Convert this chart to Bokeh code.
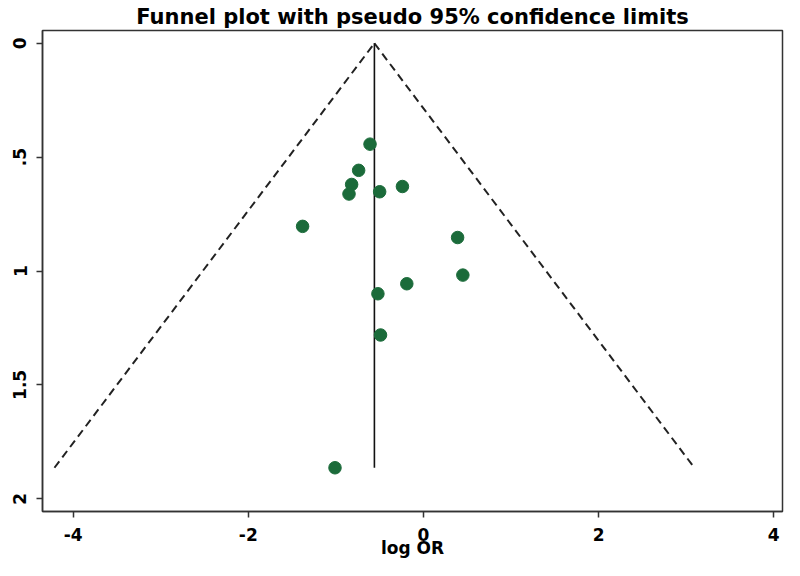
from bokeh.plotting import figure
from bokeh.models import Range1d, FixedTicker
from bokeh.embed import file_html
from bokeh.resources import INLINE

# Study estimates (log OR) and their standard errors
log_or = [-0.61, -0.74, -0.82, -0.85, -0.50, -0.24, -1.38, 0.39, 0.45, -0.19, -0.52, -0.49, -1.01]
se = [0.443, 0.558, 0.620, 0.662, 0.652, 0.629, 0.804, 0.853, 1.018, 1.056, 1.100, 1.281, 1.864]

pooled = -0.56      # fixed-effect pooled log OR
se_max = 1.864      # largest standard error
z95 = 1.96

x_ticks = [-4, -2, 0, 2, 4]
x_tick_labels = ["-4", "-2", "0", "2", "4"]
y_ticks = [0, 0.5, 1, 1.5, 2]
y_tick_labels = ["0", ".5", "1", "1.5", "2"]

FONT = "DejaVu Sans"
GREEN = "#1b6b3a"

p = figure(width=784, height=560, output_backend="svg", toolbar_location=None,
           x_range=Range1d(-4.35, 4.10), y_range=Range1d(2.056, -0.056),
           min_border_left=42, min_border_right=2, min_border_top=30, min_border_bottom=46)

p.title.text = "Funnel plot with pseudo 95% confidence limits"
p.title.text_font = FONT
p.title.text_font_style = "bold"
p.title.text_font_size = "21px"
p.title.text_color = "black"
p.title.align = "center"
p.title.offset = 0
p.title.standoff = 4

p.grid.visible = False
p.outline_line_color = "#333333"
p.outline_line_width = 1.5
p.background_fill_color = "white"
p.border_fill_color = "white"

# funnel limits
lo = pooled - z95 * se_max
hi = pooled + z95 * se_max
p.line([lo, pooled], [se_max, 0], line_color="#222222", line_width=2, line_dash="8 5")
p.line([pooled, hi], [0, se_max], line_color="#222222", line_width=2, line_dash="8 5")
p.line([pooled, pooled], [0, se_max], line_color="#111111", line_width=1.6)

p.scatter(log_or, se, size=12.5, fill_color=GREEN, line_color=GREEN)

for ax in (p.xaxis[0], p.yaxis[0]):
    ax.axis_line_color = "#333333"
    ax.axis_line_width = 1.5
    ax.major_tick_line_color = "#333333"
    ax.major_tick_line_width = 1.5
    ax.major_tick_out = 6
    ax.major_tick_in = 0
    ax.minor_tick_out = 0
    ax.minor_tick_in = 0
    ax.major_label_text_font = FONT
    ax.major_label_text_font_style = "bold"
    ax.major_label_text_font_size = "17px"
    ax.major_label_text_color = "black"

p.xaxis.ticker = FixedTicker(ticks=x_ticks)
p.xaxis.major_label_overrides = {t: l for t, l in zip(x_ticks, x_tick_labels)}
p.xaxis.major_label_standoff = 10
p.xaxis.axis_label = "log OR"
p.xaxis.axis_label_text_font = FONT
p.xaxis.axis_label_text_font_style = "bold"
p.xaxis.axis_label_text_font_size = "17px"
p.xaxis.axis_label_text_color = "black"
p.xaxis.axis_label_standoff = -6

p.yaxis.ticker = FixedTicker(ticks=y_ticks)
p.yaxis.major_label_overrides = {t: l for t, l in zip(y_ticks, y_tick_labels)}
p.yaxis.major_label_orientation = "vertical"
p.yaxis.major_label_standoff = 10

open("out.html", "w").write(file_html(p, INLINE))
